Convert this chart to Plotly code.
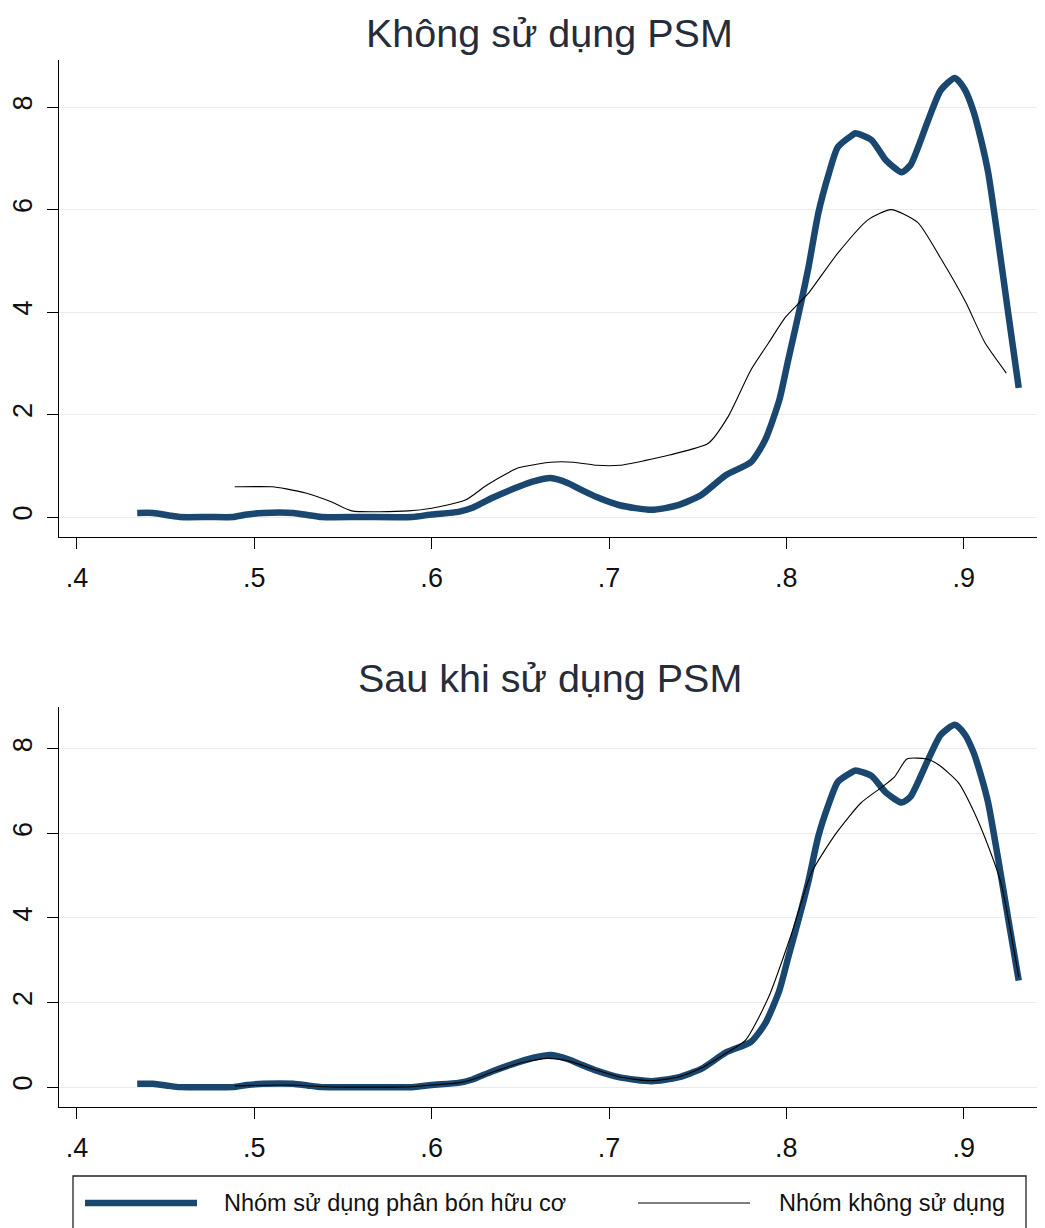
import plotly.graph_objects as go

# ---------------- data ----------------
x_treated = [0.434, 0.443, 0.452, 0.458, 0.475, 0.488, 0.496, 0.505, 0.522, 0.530,
             0.538, 0.560, 0.589, 0.600, 0.615, 0.623, 0.634, 0.649, 0.658, 0.667,
             0.677, 0.685, 0.693, 0.706, 0.724, 0.739, 0.752, 0.766, 0.780, 0.788,
             0.796, 0.801, 0.8086, 0.8125, 0.818, 0.824, 0.829, 0.837, 0.839, 0.848,
             0.856, 0.865, 0.870, 0.880, 0.887, 0.895, 0.9005, 0.9053, 0.9095, 0.9138,
             0.9194, 0.925, 0.931]
y_treated = [0.08, 0.08, 0.03, 0.00, 0.00, 0.00, 0.05, 0.08, 0.08, 0.04,
             0.00, 0.00, 0.00, 0.05, 0.10, 0.18, 0.37, 0.59, 0.70, 0.76,
             0.66, 0.52, 0.39, 0.23, 0.14, 0.23, 0.43, 0.82, 1.07, 1.50,
             2.28, 3.06, 4.23, 4.88, 5.93, 6.71, 7.22, 7.45, 7.49, 7.36,
             6.97, 6.73, 6.87, 7.75, 8.33, 8.57, 8.35, 7.94, 7.40, 6.72,
             5.40, 4.00, 2.52]

x_control_before = [0.489, 0.510, 0.518, 0.529, 0.544, 0.555, 0.587, 0.600, 0.619, 0.631,
                    0.644, 0.649, 0.667, 0.680, 0.693, 0.706, 0.720, 0.734, 0.756, 0.767,
                    0.780, 0.790, 0.7995, 0.8086, 0.8125, 0.829, 0.846, 0.859, 0.874, 0.887,
                    0.901, 0.912, 0.924]
y_control_before = [0.59, 0.59, 0.55, 0.47, 0.29, 0.12, 0.12, 0.17, 0.33, 0.62,
                    0.88, 0.96, 1.07, 1.07, 1.01, 1.01, 1.10, 1.21, 1.44, 1.95,
                    2.87, 3.40, 3.90, 4.23, 4.37, 5.15, 5.80, 6.00, 5.75, 5.05,
                    4.20, 3.40, 2.81]

x_control_after = [0.489, 0.520, 0.540, 0.560, 0.589, 0.600, 0.615, 0.623, 0.634, 0.649,
                   0.665, 0.677, 0.693, 0.706, 0.724, 0.739, 0.752, 0.766, 0.777, 0.790,
                   0.803, 0.814, 0.828, 0.842, 0.854, 0.861, 0.868, 0.879, 0.886, 0.897,
                   0.906, 0.914, 0.921, 0.931]
y_control_after = [0.03, 0.05, 0.01, 0.00, 0.01, 0.05, 0.10, 0.18, 0.35, 0.56,
                   0.68, 0.62, 0.40, 0.24, 0.15, 0.24, 0.45, 0.80, 1.11, 2.13,
                   3.64, 5.06, 6.00, 6.72, 7.10, 7.34, 7.76, 7.76, 7.62, 7.20,
                   6.49, 5.68, 4.83, 2.60]

x_tickvals = [0.4, 0.5, 0.6, 0.7, 0.8, 0.9]
x_ticktext = [".4", ".5", ".6", ".7", ".8", ".9"]
y_tickvals = [0, 2, 4, 6, 8]
y_ticktext = ["0", "2", "4", "6", "8"]
panel_titles = ["Không sử dụng PSM", "Sau khi sử dụng PSM"]
series_names = ["Nhóm sử dụng phân bón hữu cơ", "Nhóm không sử dụng"]

# ---------------- styling ----------------
OFF = 8  # page body margin
W, H = 1045 - OFF, 1228 - OFF
ML, MT = 59 - OFF, 60 - OFF
MR = W - (1040 - OFF)
MB = H - (1107 - OFF)
PW, PH = W - ML - MR, H - MT - MB
NAVY = "#1a476f"
FONT = "Arial, 'Liberation Sans', sans-serif"


def px_x(px):
    return (px - OFF - ML) / PW


def px_y(py):
    return (H - MB - (py - OFF)) / PH


fig = go.Figure()

panels = [("x", "y", x_control_before, y_control_before),
          ("x2", "y2", x_control_after, y_control_after)]
for xa, ya, xc, yc in panels:
    fig.add_trace(go.Scatter(x=x_treated, y=y_treated, mode="lines", xaxis=xa, yaxis=ya,
                             name=series_names[0], showlegend=False,
                             line=dict(color=NAVY, width=6.5, shape="spline", smoothing=0.6)))
    fig.add_trace(go.Scatter(x=xc, y=yc, mode="lines", xaxis=xa, yaxis=ya,
                             name=series_names[1], showlegend=False,
                             line=dict(color="black", width=1.1, shape="spline", smoothing=0.6)))

xaxis_common = dict(tickvals=x_tickvals, ticktext=x_ticktext, showline=True, linecolor="black",
                    linewidth=1.4, ticks="outside", ticklen=11, tickcolor="black", showgrid=False,
                    zeroline=False, tickfont=dict(size=27, color="#111111", family=FONT),
                    ticklabelstandoff=5, range=[0.3899, 0.943])
yaxis_common = dict(tickvals=y_tickvals, ticktext=y_ticktext, showline=True, linecolor="black",
                    linewidth=1.4, ticks="outside", ticklen=11, tickcolor="black", showgrid=True,
                    gridcolor="#ebebeb", gridwidth=1, zeroline=False, tickangle=-90,
                    ticklabelstandoff=4,
                    tickfont=dict(size=27, color="#111111", family=FONT))

fig.update_layout(
    width=W, height=H,
    margin=dict(l=ML, r=MR, t=MT, b=MB, autoexpand=False),
    paper_bgcolor="white", plot_bgcolor="white",
    showlegend=False,
    xaxis=dict(xaxis_common, domain=[0, 1], anchor="y"),
    yaxis=dict(yaxis_common, domain=[px_y(537), 1], anchor="x", range=[-0.39, 8.92]),
    xaxis2=dict(xaxis_common, domain=[0, 1], anchor="y2"),
    yaxis2=dict(yaxis_common, domain=[0, px_y(707)], anchor="x2", range=[-0.47, 8.99]),
)

# panel titles
for title, py in zip(panel_titles, [33, 678]):
    fig.add_annotation(text=title, xref="paper", yref="paper", x=0.5, y=px_y(py),
                       xanchor="center", yanchor="middle", showarrow=False, borderpad=0,
                       font=dict(size=39.5, color="#262d3a", family=FONT))

# legend frame, samples and labels
fig.add_shape(type="rect", xref="paper", yref="paper", x0=px_x(73), x1=px_x(1026),
              y0=px_y(1176), y1=px_y(1245), line=dict(color="#222222", width=1.3),
              fillcolor="white", layer="below")
fig.add_shape(type="line", xref="paper", yref="paper", x0=px_x(85), x1=px_x(197),
              y0=px_y(1203), y1=px_y(1203), line=dict(color=NAVY, width=6.5))
fig.add_shape(type="line", xref="paper", yref="paper", x0=px_x(638), x1=px_x(750),
              y0=px_y(1203), y1=px_y(1203), line=dict(color="black", width=1.1))
for name, px in zip(series_names, [222, 777]):
    fig.add_annotation(text=name, xref="paper", yref="paper", x=px_x(px), y=px_y(1203),
                       xanchor="left", yanchor="middle", showarrow=False,
                       font=dict(size=23.5, color="#111111", family=FONT))

fig.write_html("out.html")
